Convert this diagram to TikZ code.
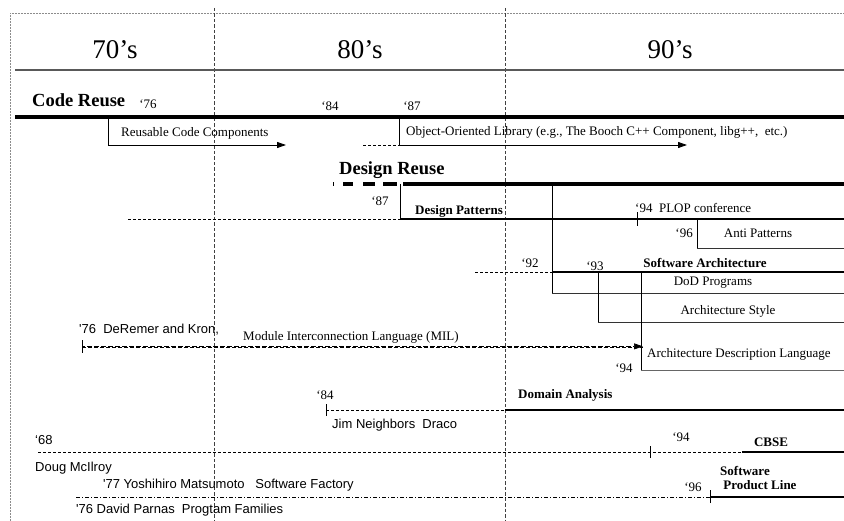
\documentclass[tikz,border=0pt]{standalone}
\usepackage{fontspec}
\setmainfont{Liberation Serif}
\newfontfamily\arialf{Liberation Sans}
\usetikzlibrary{arrows.meta}
\begin{document}
\begin{tikzpicture}[x=1pt,y=-1pt,
  lbl/.style={font=\fontsize{13}{15}\selectfont, inner sep=0pt},
  hdr/.style={font=\bfseries\fontsize{13}{15}\selectfont, inner sep=0pt},
  big/.style={font=\bfseries\fontsize{18.5}{21}\selectfont, inner sep=0pt},
  decade/.style={font=\fontsize{27}{30}\selectfont, inner sep=0pt},
  sans/.style={font=\arialf\fontsize{13}{15}\selectfont, inner sep=0pt},
  era/.style={line width=3.5pt},
  track/.style={line width=1.5pt},
  boxline/.style={line width=0.9pt, black!80},
  thin/.style={line width=0.9pt},
  lead/.style={line width=0.8pt, dash pattern=on 3pt off 2pt},
  dotdash/.style={line width=0.8pt, dash pattern=on 4pt off 2pt on 1pt off 2pt},
  divider/.style={line width=0.8pt, dash pattern=on 3.5pt off 2pt, black!75},
  tick/.style={line width=0.8pt},
  tip/.style={-{Triangle[length=9pt,width=6pt]}},
]
\useasboundingbox (0,0) rectangle (844,521);

% frame and decade grid
\draw[black!45, line width=0.6pt, dash pattern=on 0.6pt off 0.9pt] (10,521) -- (10,13) -- (844,13);
\draw[divider] (214,8) -- (214,521);
\draw[divider] (505,8) -- (505,521);
\node[decade] (d70) at (115,50) {70’s};
\node[decade] (d80) at (360,50) {80’s};
\node[decade] (d90) at (670,50) {90’s};
\draw[black!65, line width=1.2pt] (15,70) -- (844,70);

% code reuse
\node[big, anchor=west] (code) at (32,100) {Code Reuse};
\node[lbl] (c76) at (148,104) {‘76};
\node[lbl] (c84) at (330,106) {‘84};
\node[lbl] (c87) at (412,106) {‘87};
\draw[era] (15,117) -- (844,117);

\coordinate (rc0) at (108,117);
\coordinate (rc1) at (108,145);
\coordinate (rc2) at (286,145);
\draw[thin] (rc0) -- (rc1);
\draw[thin, tip] (rc1) -- (rc2);
\node[lbl, anchor=west] (rcc) at (121,133) {Reusable Code Components};

\coordinate (oo0) at (399,117);
\coordinate (oo1) at (399,145);
\coordinate (oo2) at (687,145);
\coordinate (ooL) at (363,145);
\draw[thin] (oo0) -- (oo1);
\draw[thin, tip] (oo1) -- (oo2);
\draw[lead] (ooL) -- (oo1);
\node[lbl, anchor=west] (ool) at (406,132) {Object-Oriented Library (e.g., The Booch C++ Component, libg++,\ \ etc.)};

% design reuse
\node[big, anchor=west] (dr) at (339,170) {Design Reuse};
\draw[line width=3.5pt, dash pattern=on 1pt off 9pt on 10pt off 10pt on 12pt off 8pt on 14pt] (333,184) -- (397,184);
\draw[era] (403,184) -- (844,184);

\coordinate (dp0) at (400,184);
\coordinate (dp1) at (400,219);
\coordinate (dpL) at (128,219);
\draw[thin] (dp0) -- (dp1);
\draw[track] (dp1) -- (844,219);
\draw[lead] (dpL) -- (dp1);
\node[lbl] (p87) at (380,201) {‘87};
\node[hdr, anchor=west] (dp) at (415,211) {Design Patterns};

\coordinate (dod0) at (552,184);
\coordinate (dod1) at (552,293);
\draw[thin] (dod0) -- (dod1);

\coordinate (pl) at (637,219);
\draw[tick] ([yshift=-7pt]pl) -- ([yshift=7pt]pl);
\node[lbl, anchor=west] (plop) at (635,208) {‘94\ \ PLOP conference};

\coordinate (ap0) at (697,219);
\coordinate (ap1) at (697,248);
\draw[thin] (ap0) -- (ap1);
\draw[boxline] (ap1) -- (844,248);
\node[lbl, anchor=east] (a96) at (693,233) {‘96};
\node[lbl] (anti) at (758,233) {Anti Patterns};

% software architecture
\coordinate (sa0) at (475,272);
\coordinate (sa1) at (552,272);
\draw[lead] (sa0) -- (sa1);
\draw[track] (sa1) -- (844,272);
\node[lbl] (s92) at (530,263) {‘92};
\node[lbl] (s93) at (595,266) {‘93};
\node[hdr] (sa) at (705,263) {Software Architecture};

\draw[boxline] (dod1) -- (844,293);
\node[lbl] (dod) at (713,283) {DoD Programs};

\coordinate (as0) at (598,272);
\coordinate (as1) at (598,322);
\draw[thin] (as0) -- (as1);
\draw[boxline] (as1) -- (844,322);
\node[lbl] (astyle) at (728,311) {Architecture Style};

\coordinate (ad0) at (641,272);
\coordinate (ad1) at (641,371);
\draw[thin] (ad0) -- (ad1);
\draw[black!60, line width=1pt] (ad1) -- (844,371);
\node[lbl, anchor=west] (adl) at (647,354) {Architecture Description Language};
\node[lbl] (a94) at (624,368) {‘94};

% module interconnection language
\coordinate (mil0) at (82,347);
\coordinate (mil1) at (643,347);
\draw[tick] ([yshift=-6pt]mil0) -- ([yshift=7pt]mil0);
\draw[line width=0.7pt, dash pattern=on 4pt off 2pt] ([yshift=-0.8pt]mil0) -- ([yshift=-0.8pt]mil1);
\draw[line width=0.7pt, dash pattern=on 5pt off 2pt, dash phase=2pt, tip] ([yshift=0.6pt]mil0) -- ([yshift=0.6pt]mil1);
\node[sans, anchor=west] (drk) at (79,330) {\textquotesingle76\ \ DeRemer and Kron,};
\node[lbl, anchor=west] (mil) at (243,337) {Module Interconnection Language (MIL)};

% domain analysis
\coordinate (da0) at (326,410);
\coordinate (da1) at (505,410);
\draw[tick] ([yshift=-6pt]da0) -- ([yshift=6pt]da0);
\draw[lead] (da0) -- (da1);
\draw[line width=2pt] (da1) -- (844,410);
\node[lbl] (d84) at (325,395) {‘84};
\node[hdr, anchor=west] (da) at (518,395) {Domain Analysis};
\node[sans, anchor=west] (jim) at (332,425) {Jim Neighbors\ \ Draco};

% component based software engineering
\coordinate (cb0) at (38,452);
\coordinate (cbt) at (650,452);
\coordinate (cb1) at (742,452);
\draw[lead] (cb0) -- (cb1);
\draw[tick] ([yshift=-6pt]cbt) -- ([yshift=6pt]cbt);
\draw[track] (cb1) -- (844,452);
\node[sans, anchor=west] (c68) at (35,440) {‘68};
\node[lbl] (c94) at (681,437) {‘94};
\node[hdr] (cbse) at (771,442) {CBSE};
\node[sans, anchor=west] (doug) at (35,468) {Doug McIlroy};

% software product line
\coordinate (sp0) at (76,497);
\coordinate (sp1) at (710,497);
\draw[dotdash] (sp0) -- (sp1);
\draw[tick] ([yshift=-6pt]sp1) -- ([yshift=7pt]sp1);
\draw[track] (sp1) -- (844,497);
\node[sans, anchor=west] (yosh) at (103,485) {\textquotesingle77 Yoshihiro Matsumoto\ \ \ Software Factory};
\node[lbl] (s96) at (693,487) {‘96};
\node[hdr, anchor=west, align=left] (spl) at (720,478) {Software\\[-1pt]\ Product Line};
\node[sans, anchor=west] (parnas) at (76,510) {\textquotesingle76 David Parnas\ \ Progtam Families};
\end{tikzpicture}
\end{document}
